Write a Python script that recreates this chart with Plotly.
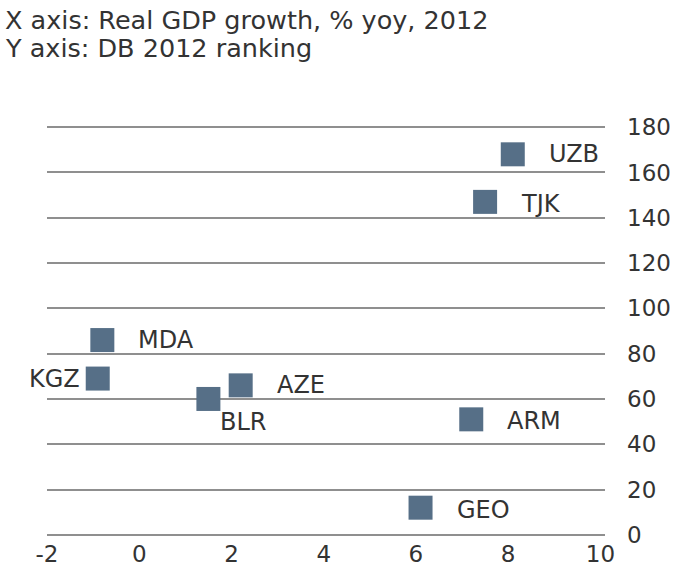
import plotly.graph_objects as go

countries = ["UZB", "TJK", "MDA", "KGZ", "AZE", "BLR", "ARM", "GEO"]
gdp_growth = [8.1, 7.5, -0.8, -0.9, 2.2, 1.5, 7.2, 6.1]
db_rank = [168, 147, 86, 69, 66, 60, 51, 12]

x_ticks = [-2, 0, 2, 4, 6, 8, 10]
x_tick_labels = ["-2", "0", "2", "4", "6", "8", "10"]
y_ticks = [0, 20, 40, 60, 80, 100, 120, 140, 160, 180]
y_tick_labels = ["0", "20", "40", "60", "80", "100", "120", "140", "160", "180"]

title_lines = ["X axis: Real GDP growth, % yoy, 2012", "Y axis: DB 2012 ranking"]

# label placement style (anchor, xshift px, yshift px) per point
label_style = {
    "UZB": ("left", 34, 0),
    "TJK": ("left", 34, -2),
    "MDA": ("left", 34, 0),
    "KGZ": ("right", -16, 0),
    "AZE": ("left", 34, 0),
    "BLR": ("left", 10, -23),
    "ARM": ("left", 34, -2),
    "GEO": ("left", 34, -2),
}

FONT = "DejaVu Sans"
TXT = "#333333"

W, H = 673, 585
L, T, PW, PH = 47, 126, 558, 410

fig = go.Figure()
fig.add_trace(go.Scatter(
    x=gdp_growth, y=db_rank, mode="markers",
    marker=dict(symbol="square", size=24, color="#566f87", line=dict(width=0)),
    hoverinfo="skip", showlegend=False,
))

for c, gx, ry in zip(countries, gdp_growth, db_rank):
    anchor, xs, ys = label_style[c]
    fig.add_annotation(x=gx, y=ry, text=c, showarrow=False, xanchor=anchor,
                       yanchor="middle", xshift=xs, yshift=ys,
                       font=dict(family=FONT, size=24, color=TXT))

# title lines (centers at y=20 and y=48)
for i, line in enumerate(title_lines):
    cy = 20 + 28 * i
    fig.add_annotation(xref="paper", yref="paper",
                       x=(3 - L) / PW, y=(T + PH - cy) / PH,
                       text=line, showarrow=False, xanchor="left", yanchor="middle",
                       font=dict(family=FONT, size=25.5, color=TXT))

fig.update_layout(
    width=W, height=H,
    margin=dict(l=L, r=W - L - PW, t=T, b=H - T - PH, pad=0, autoexpand=False),
    paper_bgcolor="white", plot_bgcolor="white",
    xaxis=dict(range=[-2, 10.1], tickvals=x_ticks, ticktext=x_tick_labels,
               showgrid=False, zeroline=False, automargin=False,
               showline=False, ticks="", tickfont=dict(family=FONT, size=23, color=TXT),
               ticklabelstandoff=2),
    yaxis=dict(range=[-0.5, 180.5], tickvals=y_ticks, ticktext=y_tick_labels,
               side="right", showgrid=True, automargin=False,
               gridcolor="#8f8f8f", gridwidth=2, zeroline=False, showline=False, ticks="",
               tickfont=dict(family=FONT, size=23, color=TXT), ticklabelstandoff=21),
)

fig.write_html("out.html", config={"displayModeBar": False},
               post_script="document.body.style.margin='0px';document.body.style.overflow='hidden';")
